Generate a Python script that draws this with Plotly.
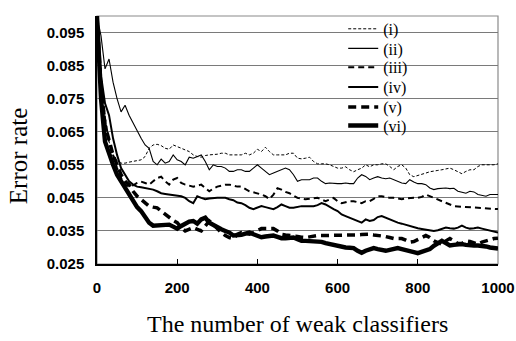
import plotly.graph_objects as go

# ---------------- data ----------------
n_classifiers = list(range(0, 1001, 10))

series_names = ["(i)", "(ii)", "(iii)", "(iv)", "(v)", "(vi)"]

err_i = [0.100, 0.082, 0.069, 0.062, 0.058, 0.0562, 0.0555, 0.0555, 0.0558, 0.056,
         0.0562, 0.0565, 0.0575, 0.060, 0.061, 0.0612, 0.0608, 0.060, 0.0597, 0.061,
         0.0605, 0.060, 0.0597, 0.059, 0.058, 0.0575, 0.0573, 0.0578, 0.058, 0.058,
         0.0582, 0.0585, 0.0585, 0.058, 0.058, 0.058, 0.058, 0.0585, 0.058, 0.0585,
         0.0597, 0.059, 0.0603, 0.059, 0.058, 0.058, 0.058, 0.058, 0.0585, 0.0585,
         0.057, 0.0568, 0.057, 0.0573, 0.056, 0.0553, 0.0553, 0.0553, 0.055, 0.0545,
         0.054, 0.054, 0.0544, 0.0535, 0.0529, 0.0535, 0.054, 0.055, 0.0544, 0.055,
         0.055, 0.0553, 0.0553, 0.0545, 0.0535, 0.0545, 0.055, 0.054, 0.052, 0.0514,
         0.0517, 0.052, 0.0525, 0.0529, 0.053, 0.0533, 0.0535, 0.0537, 0.054, 0.0535,
         0.053, 0.0523, 0.053, 0.0535, 0.0535, 0.0545, 0.055, 0.055, 0.055, 0.055,
         0.0553]

err_ii = [0.100, 0.094, 0.084, 0.087, 0.080, 0.075, 0.071, 0.073, 0.070, 0.0675,
          0.065, 0.063, 0.061, 0.060, 0.056, 0.055, 0.0567, 0.0555, 0.056, 0.058,
          0.0565, 0.056, 0.055, 0.0573, 0.057, 0.0575, 0.058, 0.056, 0.0535, 0.055,
          0.0545, 0.0545, 0.054, 0.053, 0.053, 0.0535, 0.0535, 0.053, 0.053, 0.054,
          0.055, 0.054, 0.053, 0.052, 0.0525, 0.053, 0.0535, 0.054, 0.0535, 0.052,
          0.050, 0.0505, 0.0505, 0.0505, 0.051, 0.051, 0.050, 0.0493, 0.0495, 0.0493,
          0.0493, 0.0493, 0.0495, 0.0493, 0.0493, 0.051, 0.052, 0.0515, 0.0505, 0.051,
          0.0514, 0.051, 0.0508, 0.051, 0.0505, 0.050, 0.0495, 0.0493, 0.0505, 0.0498,
          0.0493, 0.0493, 0.049, 0.048, 0.0475, 0.0478, 0.048, 0.048, 0.0478, 0.0479,
          0.047, 0.0466, 0.0464, 0.047, 0.0468, 0.046, 0.0458, 0.0455, 0.046, 0.046,
          0.046]

err_iii = [0.100, 0.080, 0.069, 0.062, 0.058, 0.054, 0.051, 0.049, 0.0484, 0.0488,
           0.0495, 0.0499, 0.0495, 0.049, 0.050, 0.051, 0.0514, 0.050, 0.049, 0.0505,
           0.051, 0.0495, 0.049, 0.0486, 0.0484, 0.0487, 0.049, 0.048, 0.047, 0.0478,
           0.0484, 0.0487, 0.049, 0.049, 0.0487, 0.0484, 0.0484, 0.0478, 0.047, 0.0467,
           0.0464, 0.046, 0.0455, 0.0446, 0.046, 0.0479, 0.0475, 0.0468, 0.0464, 0.0457,
           0.045, 0.0448, 0.0446, 0.0447, 0.0448, 0.045, 0.0445, 0.044, 0.0445, 0.045,
           0.044, 0.0434, 0.0437, 0.044, 0.044, 0.0437, 0.0434, 0.044, 0.044, 0.0447,
           0.0455, 0.0455, 0.0452, 0.045, 0.045, 0.0447, 0.0446, 0.0448, 0.045, 0.045,
           0.045, 0.0453, 0.046, 0.0455, 0.045, 0.0445, 0.044, 0.0435, 0.0428, 0.0425,
           0.0424, 0.0423, 0.0422, 0.0422, 0.0421, 0.042, 0.0419, 0.0418, 0.0417, 0.0416,
           0.0416]

err_iv = [0.100, 0.082, 0.0736, 0.070, 0.063, 0.058, 0.054, 0.052, 0.050, 0.049,
          0.0484, 0.0482, 0.048, 0.0479, 0.0475, 0.047, 0.0464, 0.0462, 0.046, 0.046,
          0.0458, 0.0455, 0.045, 0.044, 0.0434, 0.0455, 0.045, 0.0446, 0.0448, 0.045,
          0.045, 0.045, 0.045, 0.0446, 0.0443, 0.0436, 0.0434, 0.0428, 0.042, 0.0416,
          0.042, 0.0425, 0.0422, 0.042, 0.0416, 0.0422, 0.043, 0.0425, 0.042, 0.042,
          0.0423, 0.0425, 0.0425, 0.0425, 0.0425, 0.0428, 0.0434, 0.043, 0.0422, 0.0416,
          0.041, 0.040, 0.0395, 0.039, 0.0386, 0.038, 0.0375, 0.0385, 0.038, 0.0383,
          0.0392, 0.0395, 0.039, 0.0383, 0.038, 0.0375, 0.0372, 0.0368, 0.0364, 0.036,
          0.0358, 0.0356, 0.0354, 0.0352, 0.035, 0.0352, 0.0356, 0.036, 0.0358, 0.0357,
          0.036, 0.0366, 0.036, 0.0357, 0.0358, 0.036, 0.0357, 0.0354, 0.035, 0.0346,
          0.0345]

err_v = [0.100, 0.079, 0.067, 0.062, 0.058, 0.055, 0.052, 0.050, 0.049, 0.047,
         0.0455, 0.0445, 0.0435, 0.0425, 0.0422, 0.042, 0.041, 0.040, 0.039, 0.0382,
         0.0375, 0.036, 0.035, 0.0355, 0.036, 0.0355, 0.035, 0.0365, 0.038, 0.037,
         0.0357, 0.0345, 0.0336, 0.033, 0.0327, 0.034, 0.0345, 0.0342, 0.034, 0.0345,
         0.035, 0.0357, 0.0357, 0.0357, 0.0357, 0.035, 0.034, 0.0338, 0.0337, 0.0336,
         0.0333, 0.0331, 0.033, 0.0332, 0.0335, 0.0336, 0.0336, 0.0336, 0.0336, 0.0336,
         0.0336, 0.0336, 0.0336, 0.0336, 0.0337, 0.0338, 0.0339, 0.034, 0.034, 0.0338,
         0.0337, 0.0336, 0.0333, 0.033, 0.0327, 0.0327, 0.0327, 0.0322, 0.0316, 0.0318,
         0.0325, 0.033, 0.0336, 0.033, 0.032, 0.0315, 0.031, 0.032, 0.0327, 0.032,
         0.0312, 0.0312, 0.032, 0.0318, 0.0313, 0.031, 0.0316, 0.032, 0.0325, 0.0327,
         0.0328]

err_vi = [0.100, 0.075, 0.062, 0.058, 0.055, 0.052, 0.050, 0.048, 0.0465, 0.0445,
          0.0422, 0.041, 0.039, 0.0375, 0.0366, 0.0366, 0.0366, 0.0368, 0.0369, 0.0363,
          0.0357, 0.0365, 0.0372, 0.0378, 0.038, 0.0372, 0.0385, 0.039, 0.0375, 0.0368,
          0.036, 0.0355, 0.035, 0.0345, 0.0336, 0.0336, 0.0338, 0.0342, 0.0345, 0.034,
          0.0335, 0.0331, 0.0333, 0.0335, 0.0336, 0.0332, 0.0328, 0.0328, 0.033, 0.033,
          0.0325, 0.032, 0.032, 0.032, 0.032, 0.032, 0.0317, 0.0313, 0.031, 0.0307,
          0.0303, 0.030, 0.030, 0.0299, 0.0298, 0.029, 0.0284, 0.029, 0.0293, 0.0298,
          0.0295, 0.0291, 0.029, 0.0293, 0.0296, 0.0298, 0.0295, 0.0291, 0.029, 0.0286,
          0.0283, 0.0286, 0.029, 0.0295, 0.0305, 0.0313, 0.032, 0.0313, 0.0306, 0.0308,
          0.031, 0.031, 0.0308, 0.0306, 0.0306, 0.0306, 0.0306, 0.0303, 0.030, 0.0298,
          0.0297]

y_tickvals = [0.025, 0.035, 0.045, 0.055, 0.065, 0.075, 0.085, 0.095]
y_ticktext = ["0.025", "0.035", "0.045", "0.055", "0.065", "0.075", "0.085", "0.095"]
x_tickvals = [0, 200, 400, 600, 800, 1000]
x_ticktext = ["0", "200", "400", "600", "800", "1000"]

x_title = "The number of weak classifiers"
y_title = "Error rate"

# ---------------- styling ----------------
all_series = [err_i, err_ii, err_iii, err_iv, err_v, err_vi]
line_styles = [
    dict(width=1.0, dash="3px,2px"),
    dict(width=1.1, dash="solid"),
    dict(width=2.0, dash="6px,4px"),
    dict(width=2.0, dash="solid"),
    dict(width=3.5, dash="8px,5px"),
    dict(width=4.4, dash="solid"),
]
legend_rows = [0.948, 0.869, 0.793, 0.713, 0.633, 0.558]
legend_names = ["legend", "legend2", "legend3", "legend4", "legend5", "legend6"]

fig = go.Figure()
for name, vals, st, lg in zip(series_names, all_series, line_styles, legend_names):
    fig.add_trace(go.Scatter(
        x=n_classifiers, y=vals, mode="lines", name=name, legend=lg,
        line=dict(color="black", width=st["width"], dash=st["dash"]),
    ))

serif = "Liberation Serif, Times New Roman, serif"
sans = "Liberation Sans, Arial, sans-serif"

layout_legends = {}
for lg, yy in zip(legend_names, legend_rows):
    layout_legends[lg] = dict(
        x=0.614, y=yy, xanchor="left", yanchor="middle",
        bgcolor="rgba(0,0,0,0)", borderwidth=0,
        font=dict(family=serif, size=16, color="black"),
        itemwidth=30,
    )

fig.update_layout(
    width=516, height=341,
    margin=dict(l=97, r=18, t=13, b=77),
    paper_bgcolor="white", plot_bgcolor="white",
    showlegend=True,
    **layout_legends,
    xaxis=dict(
        range=[0, 1000], tickvals=x_tickvals, ticktext=x_ticktext,
        ticks="inside", ticklen=5, tickcolor="black", tickwidth=1,
        showgrid=False, zeroline=False, automargin=False,
        showline=True, linecolor="black", linewidth=1.5,
        tickfont=dict(family=sans, size=15, color="black", weight="bold"),
        ticklabelstandoff=9,
    ),
    yaxis=dict(
        range=[0.025, 0.1], tickvals=y_tickvals, ticktext=y_ticktext,
        ticks="", showgrid=True, gridcolor="#7a7a7a", gridwidth=1.2,
        zeroline=False, showline=True, linecolor="black", linewidth=1.5,
        automargin=False,
        tickfont=dict(family=sans, size=15, color="black", weight="bold"),
        ticklabelstandoff=8,
    ),
    shapes=[dict(type="rect", xref="paper", yref="paper", x0=0, y0=0, x1=1, y1=1,
                 line=dict(color="#8a8a8a", width=1.2), layer="below")],
    annotations=[
        dict(text=x_title, xref="paper", yref="paper", x=0.5, y=-0.24,
             xanchor="center", yanchor="middle", showarrow=False,
             font=dict(family=serif, size=24, color="black")),
        dict(text=y_title, xref="paper", yref="paper", x=-0.195, y=0.434,
             xanchor="center", yanchor="middle", showarrow=False, textangle=-90,
             font=dict(family=serif, size=25, color="black")),
    ],
)

fig.write_html("out.html", config={"displayModeBar": False},
               post_script="document.body.style.margin='0px';")
